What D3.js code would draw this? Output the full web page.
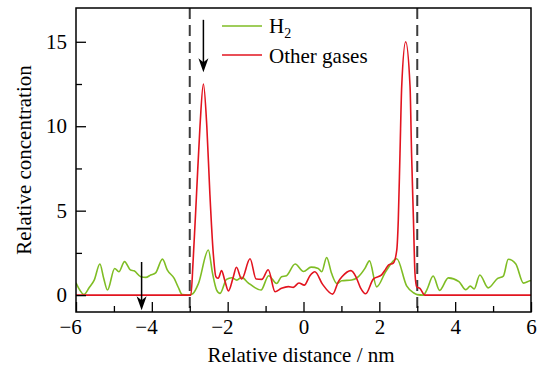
<!DOCTYPE html>
<html>
<head>
<meta charset="utf-8">
<script src="https://cdn.jsdelivr.net/npm/d3@7"></script>
</head>
<body style="margin:0;padding:0;background:#fff">
<svg id="chart" width="542" height="367" style="display:block"></svg>
<script>
// ---------- data ----------
const h2X = [-6.00,-5.90,-5.79,-5.65,-5.52,-5.37,-5.27,-5.17,-4.98,-4.87,-4.72,-4.56,-4.47,-4.29,-4.16,-4.03,-3.90,-3.72,-3.59,-3.41,-3.30,-3.20,-3.05,-2.92,-2.77,-2.51,-2.40,-2.29,-2.20,-2.03,-1.89,-1.76,-1.63,-1.46,-1.12,-0.92,-0.71,-0.58,-0.45,-0.22,0.00,0.20,0.39,0.48,0.61,0.74,0.88,1.01,1.27,1.45,1.62,1.74,1.93,2.17,2.46,2.72,2.90,3.00,3.16,3.25,3.42,3.59,3.82,4.10,4.28,4.40,4.50,4.65,4.87,5.12,5.27,5.40,5.60,5.80,5.97,6.00];
const h2Y = [0.73,0.30,0.04,0.45,0.89,1.84,1.00,0.30,1.58,1.38,1.98,1.48,1.44,1.09,1.05,1.19,1.32,2.13,1.48,0.99,0.45,0.03,0.00,0.08,0.69,2.67,1.30,0.30,0.10,0.93,1.03,0.89,1.05,0.73,0.30,1.15,0.69,1.09,1.15,1.84,1.40,1.66,1.58,1.38,2.23,1.29,0.69,0.85,0.89,1.09,1.58,2.03,0.49,1.40,2.15,0.55,0.14,0.03,0.00,0.30,1.13,0.28,1.02,0.80,0.32,0.53,0.36,1.19,0.43,0.99,1.13,2.12,1.84,0.71,0.85,0.87];

const otherX = [-6.00,-2.97,-2.91,-2.82,-2.73,-2.64,-2.55,-2.47,-2.38,-2.31,-2.25,-2.16,-2.08,-1.98,-1.85,-1.77,-1.63,-1.41,-1.25,-1.10,-0.93,-0.75,-0.58,-0.40,-0.27,-0.12,0.02,0.17,0.30,0.50,0.77,0.92,1.02,1.25,1.38,1.50,1.64,1.84,2.06,2.15,2.24,2.37,2.46,2.50,2.545,2.59,2.695,2.81,2.85,2.90,2.94,2.985,3.07,3.20,6.00];
const otherY = [0.00,0.00,2.07,6.03,10.0,12.5,10.0,6.03,2.47,1.09,1.00,1.45,0.90,0.25,1.09,1.65,0.95,2.15,0.95,0.93,1.50,0.20,0.40,0.50,0.46,0.72,0.59,1.15,1.38,0.65,0.06,0.80,1.10,1.45,1.10,0.45,0.08,0.95,1.20,1.48,1.78,1.90,2.67,4.45,8.40,12.35,15.0,12.35,8.40,4.45,1.29,0.49,0.40,0.00,0.00];

const seriesNames = ["H\u2082", "Other gases"];
const xTicksMajor = [-6,-4,-2,0,2,4,6];
const xTicksMinor = [-5,-3,-1,1,3,5];
const yTicksMajor = [0,5,10,15];
const yTicksMinor = [2.5,7.5,12.5];
const boundaryX = [-3, 3];
const arrowX = [-2.64, -4.27];
const arrowFrom = [16.3, 1.96];
const arrowTo = [13.2, -0.89];

// ---------- layout ----------
const L = 76, R = 531, T = 8, B = 312;
const FONT = "'Liberation Serif'";
const FS = "21px";
const green = "#7fbd24", red = "#e2141f";

const svg = d3.select("#chart").style("font-family", FONT);
const x = d3.scaleLinear().domain([-6, 6]).range([L, R]);
const y = d3.scaleLinear().domain([-1, 17]).range([B, T]);

svg.append("clipPath").attr("id", "plotclip")
  .append("rect").attr("x", L).attr("y", T).attr("width", R - L).attr("height", B - T);

// dashed boundaries
svg.append("g").selectAll("line").data(boundaryX).join("line")
  .attr("x1", d => x(d)).attr("x2", d => x(d))
  .attr("y1", T).attr("y2", B)
  .attr("stroke", "#3c3c3c").attr("stroke-width", 2)
  .attr("stroke-dasharray", "11,6");

const line = d3.line().x(d => x(d[0])).y(d => y(d[1])).curve(d3.curveMonotoneX);
const h2 = h2X.map((v, i) => [v, h2Y[i]]);
const other = otherX.map((v, i) => [v, otherY[i]]);

const plot = svg.append("g").attr("clip-path", "url(#plotclip)");
plot.append("path").datum(h2).attr("d", line)
  .attr("fill", "none").attr("stroke", green).attr("stroke-width", 1.6);
plot.append("path").datum(other).attr("d", line)
  .attr("fill", "none").attr("stroke", red).attr("stroke-width", 1.6);

// axes (ticks inward)
function styleAxis(g) {
  g.style("font-family", FONT);
  g.select(".domain").remove();
  g.selectAll("line").attr("stroke", "#000").attr("stroke-width", 1.3);
  g.selectAll("text").style("font-family", FONT).style("font-size", FS).attr("fill", "#000");
}
const gx = svg.append("g").attr("transform", `translate(0,${B})`)
  .call(d3.axisBottom(x).tickValues(xTicksMajor).tickSizeInner(-10).tickSizeOuter(0).tickPadding(7)
    .tickFormat(d => (d < 0 ? "\u2212" : "") + Math.abs(d)));
styleAxis(gx);
gx.selectAll("text").attr("text-anchor", "end").attr("dx", 5.3);

const gxm = svg.append("g").attr("transform", `translate(0,${B})`)
  .call(d3.axisBottom(x).tickValues(xTicksMinor).tickSizeInner(-6).tickSizeOuter(0).tickFormat(""));
styleAxis(gxm);

const gy = svg.append("g").attr("transform", `translate(${L},0)`)
  .call(d3.axisLeft(y).tickValues(yTicksMajor).tickSizeInner(-10).tickSizeOuter(0).tickPadding(9));
styleAxis(gy);

const gym = svg.append("g").attr("transform", `translate(${L},0)`)
  .call(d3.axisLeft(y).tickValues(yTicksMinor).tickSizeInner(-6).tickSizeOuter(0).tickFormat(""));
styleAxis(gym);

// frame
svg.append("rect").attr("x", L).attr("y", T).attr("width", R - L).attr("height", B - T)
  .attr("fill", "none").attr("stroke", "#000").attr("stroke-width", 1.5);

// arrows
const ag = svg.append("g");
arrowX.forEach((ax, i) => {
  const px = x(ax), y0 = y(arrowFrom[i]), y1 = y(arrowTo[i]);
  ag.append("line").attr("x1", px).attr("x2", px).attr("y1", y0).attr("y2", y1 - 8)
    .attr("stroke", "#000").attr("stroke-width", 1.5);
  ag.append("path")
    .attr("d", `M${px},${y1} L${px - 5},${y1 - 14} L${px},${y1 - 10} L${px + 5},${y1 - 14} Z`)
    .attr("fill", "#000");
});

// legend
const lg = svg.append("g");
const legColors = [green, red];
const legY = [26, 55];
seriesNames.forEach((n, i) => {
  lg.append("line").attr("x1", 222).attr("x2", 262).attr("y1", legY[i]).attr("y2", legY[i])
    .attr("stroke", legColors[i]).attr("stroke-width", 1.6);
});
const t1 = lg.append("text").attr("x", 269).attr("y", legY[0] + 7)
  .style("font-family", FONT).style("font-size", FS);
t1.append("tspan").text("H");
t1.append("tspan").text("2").style("font-size", "14px").attr("dy", 5);
lg.append("text").attr("x", 269).attr("y", legY[1] + 8)
  .style("font-family", FONT).style("font-size", FS).text(seriesNames[1]);

// axis titles
svg.append("text").attr("x", 301).attr("y", 362).attr("text-anchor", "middle")
  .style("font-family", FONT).style("font-size", FS).text("Relative distance / nm");
svg.append("text").attr("transform", `translate(31,${(T + B) / 2}) rotate(-90)`)
  .attr("text-anchor", "middle")
  .style("font-family", FONT).style("font-size", FS).text("Relative concentration");
</script>
</body>
</html>
